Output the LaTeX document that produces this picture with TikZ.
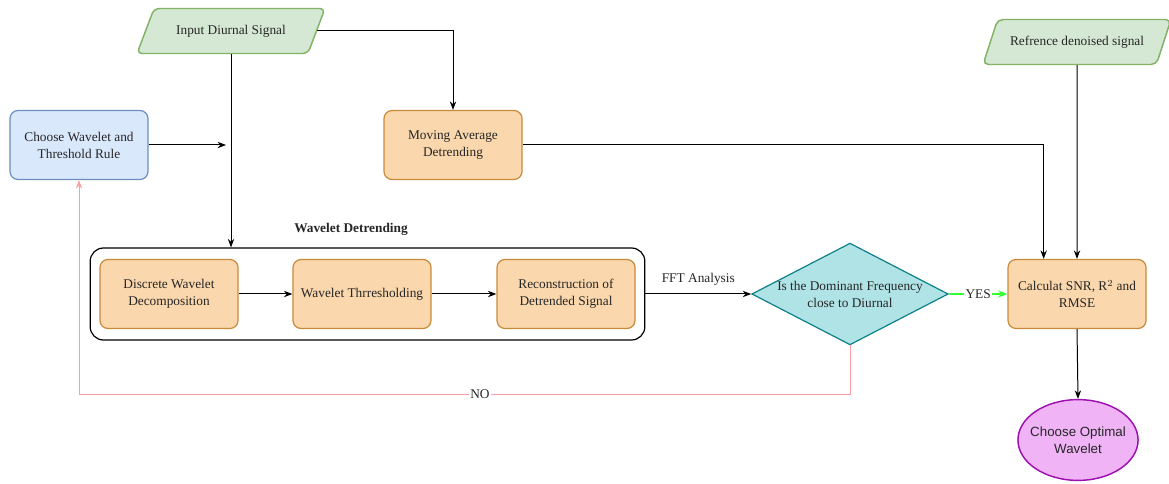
\documentclass[tikz,border=0pt]{standalone}
\usepackage{fontspec}
\setmainfont{Liberation Serif}
\newfontfamily\sansfam{Liberation Sans}
\usetikzlibrary{shapes.geometric,arrows.meta}

\definecolor{ioFill}{HTML}{D5E8D4}
\definecolor{ioDraw}{HTML}{82B366}
\definecolor{blueFill}{HTML}{DAE8FC}
\definecolor{blueDraw}{HTML}{6C8EBF}
\definecolor{procFill}{HTML}{FAD7AC}
\definecolor{procDraw}{HTML}{C98B3A}
\definecolor{decFill}{HTML}{B0E3E6}
\definecolor{decDraw}{HTML}{0E8088}
\definecolor{endFill}{HTML}{F0B4F6}
\definecolor{endDraw}{HTML}{9C10B0}
\definecolor{noLine}{HTML}{FF9DA6}
\definecolor{yesLine}{HTML}{33FF33}

\tikzset{
  txt/.style={font=\fontsize{10}{12.75}\selectfont, text=black!85},
  proc/.style={txt, draw=procDraw, fill=procFill, line width=0.9pt, rounded corners=6pt,
               minimum width=103.5pt, minimum height=51.75pt, align=center},
  iobox/.style={txt, trapezium, trapezium left angle=50, trapezium right angle=130,
                trapezium stretches=true, draw=ioDraw, fill=ioFill, line width=1.1pt,
                rounded corners=4pt, minimum width=141pt, minimum height=33.75pt, inner sep=1pt},
  flow/.style={->, line width=0.75pt}
}

\begin{document}
\begin{tikzpicture}[x=0.75pt, y=-0.75pt, >=Stealth]
\useasboundingbox (0,0) rectangle (1169,484);

% inputs
\node (inp) [iobox] at (231,31) {Input Diurnal Signal};
\node (ref) [iobox] at (1077,42) {Refrence denoised signal};

% top row
\node (choose) [proc, draw=blueDraw, fill=blueFill] at (79,145) {Choose Wavelet and\\Threshold Rule};
\node (mad) [proc] at (453,145) {Moving Average\\Detrending};
\coordinate (join) at (226,145);

% wavelet detrending group
\node (grp) [draw, line width=0.9pt, rounded corners=10pt, minimum width=416pt, minimum height=69pt] at (367.5,294) {};
\node (grplbl) [txt, font=\fontsize{10}{12}\selectfont\bfseries] at (351,229) {Wavelet Detrending};
\node (dwd) [proc] at (169,294) {Discrete Wavelet\\Decomposition};
\node (thr) [proc] at (362,294) {Wavelet Thrresholding};
\node (rec) [proc] at (566,294) {Reconstruction of\\Detrended Signal};

% decision and result
\node (dom) [txt, diamond, aspect=1.93, draw=decDraw, fill=decFill, line width=0.9pt, inner sep=0pt,
             align=center] at (850,294)
             {Is the Dominant Frequency\\close to Diurnal};
\node (calc) [proc] at (1077,294) {Calculat SNR, R$^2$ and\\RMSE};
\node (opt) [txt, ellipse, draw=endDraw, fill=endFill, line width=1.1pt, align=center,
             inner xsep=-4pt, inner ysep=11.5pt,
             font=\sansfam\fontsize{10}{12.5}\selectfont] at (1078,440) {Choose Optimal\\Wavelet};

\draw[flow] (inp.south) -- (inp.south |- grp.north);
\draw[flow] (inp.east) -| (mad.north);
\draw[flow] (choose.east) -- (join);
\draw[flow] (dwd) -- (thr);
\draw[flow] (thr) -- (rec);
\draw[flow] (grp.east) -- node[txt, above=3pt] {FFT Analysis} (dom.west);
\draw[flow, yesLine, line width=0.9pt] (dom.east) -- node[txt, fill=white, inner sep=1pt] {YES} (calc.west);
\draw[flow, noLine] (dom.south) -- ++(0,49) -| node[txt, pos=0.24, fill=white, inner sep=1pt] {NO} (choose.south);
\draw[flow] (mad.east) -| ([xshift=-25pt]calc.north);
\draw[flow] (ref.south) -- (calc.north);
\draw[flow] (calc.south) -- (opt.north);
\end{tikzpicture}
\end{document}
